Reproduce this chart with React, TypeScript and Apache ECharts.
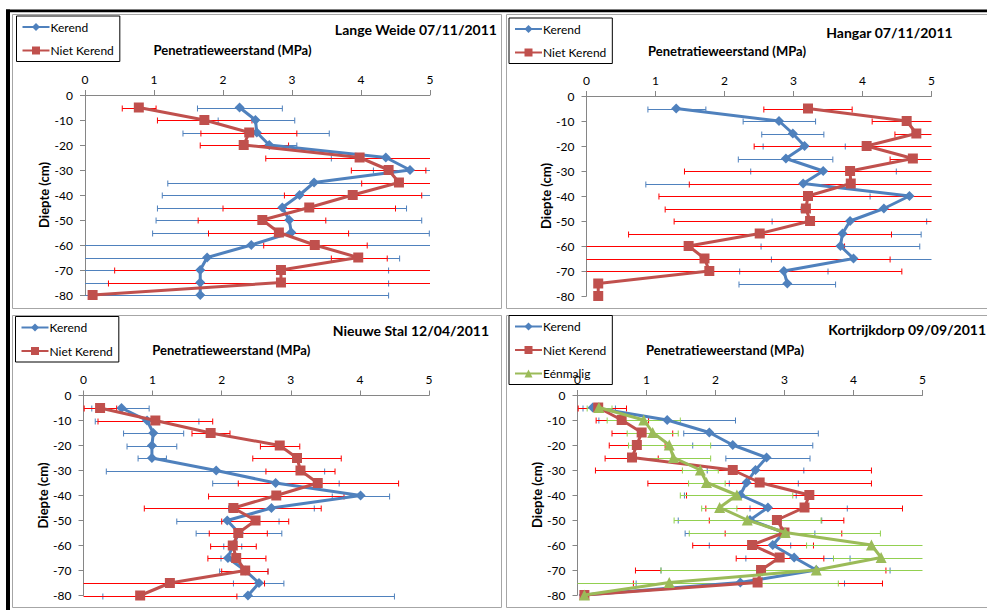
import React, { useEffect, useRef } from "react";
import * as echarts from "echarts";

// Depths (cm)
const depths = [-5, -10, -15, -20, -25, -30, -35, -40, -45, -50, -55, -60, -65, -70, -75, -80];
const xTicks = { min: 0, max: 5, interval: 1 };
const yTicks = { min: -80, max: 0, interval: 10 };

const panelTitles = [
  "Lange Weide 07/11/2011",
  "Hangar 07/11/2011",
  "Nieuwe Stal 12/04/2011",
  "Kortrijkdorp 09/09/2011",
];
const xAxisTitle = "Penetratieweerstand (MPa)";
const yAxisTitle = "Diepte (cm)";
const seriesNames = ["Kerend", "Niet Kerend", "Eénmalig"];

// Panel 1: Lange Weide
const lwKerend = [2.24, 2.47, 2.49, 2.67, 4.36, 4.71, 3.32, 3.11, 2.86, 2.96, 2.99, 2.41, 1.77, 1.67, 1.67, 1.67];
const lwKerendLow = [1.63, 1.93, 1.42, 2.27, 3.57, 4.18, 1.2, 1.12, 1.05, 1.03, 0.98, -0.3, -1.02, -1.06, -1.06, -1.06];
const lwKerendHigh = [2.86, 3.04, 3.54, 3.07, 5.15, 5.24, 5.44, 5.1, 4.66, 4.88, 4.99, 5.12, 4.56, 4.4, 4.4, 4.4];
const lwNiet = [0.78, 1.73, 2.38, 2.3, 3.98, 4.4, 4.55, 3.88, 3.25, 2.57, 2.81, 3.33, 3.96, 2.84, 2.84, 0.11];
const lwNietLow = [0.54, 1.05, 1.68, 1.67, 2.62, 3.86, 4.01, 2.89, 2.0, 1.64, 1.79, 2.59, 3.57, 0.43, 0.34, 0.11];
const lwNietHigh = [1.03, 2.42, 3.07, 2.95, 5.34, 4.94, 5.09, 4.88, 4.5, 3.49, 3.82, 4.09, 4.38, 5.25, 5.34, 0.11];

// Panel 2: Hangar
const haKerend = [1.3, 2.79, 2.99, 3.16, 2.89, 3.43, 3.14, 4.68, 4.31, 3.82, 3.71, 3.68, 3.87, 2.86, 2.91, null];
const haKerendLow = [0.89, 2.27, 2.54, 2.56, 2.2, 2.38, 0.86, 4.11, 3.11, 2.69, 2.57, 2.53, 2.68, 2.22, 2.21, null];
const haKerendHigh = [1.73, 3.32, 3.44, 3.75, 3.57, 4.49, 5.42, 5.25, 5.51, 4.93, 4.85, 4.83, 5.06, 3.5, 3.61, null];
const haNiet = [3.21, 4.64, 4.78, 4.06, 4.73, 3.82, 3.83, 3.21, 3.18, 3.24, 2.51, 1.48, 1.71, 1.78, 0.17, 0.17];
const haNietLow = [2.57, 4.14, 4.47, 2.43, 4.4, 1.42, 1.49, 1.05, 1.14, 1.27, 0.61, -0.78, -0.98, -1.01, 0.17, 0.17];
const haNietHigh = [3.85, 5.14, 5.09, 5.69, 5.06, 6.22, 6.17, 5.37, 5.22, 5.21, 4.42, 3.74, 4.4, 4.57, 0.17, 0.17];

// Panel 3: Nieuwe Stal
const nsKerend = [0.55, 0.92, 1.01, 0.99, 0.99, 1.92, 2.78, 4.01, 2.72, 2.08, 2.25, 2.16, 2.09, 2.34, 2.54, 2.38];
const nsKerendLow = [0.12, 0.17, 0.58, 0.63, 0.79, 0.33, 1.87, 3.6, 2.1, 1.35, 1.63, 2.03, 1.99, 1.97, 2.17, 0.28];
const nsKerendHigh = [0.95, 1.67, 1.45, 1.35, 1.2, 3.49, 3.7, 4.43, 3.34, 2.83, 2.87, 2.29, 2.19, 2.67, 2.9, 4.5];
const nsNiet = [0.24, 1.04, 1.84, 2.84, 3.09, 3.14, 3.39, 2.79, 2.17, 2.49, 2.24, 2.16, 2.21, 2.34, 1.25, 0.82];
const nsNietLow = [0.01, 0.21, 1.57, 2.56, 2.45, 2.64, 2.24, 1.81, 0.88, 2.0, 1.82, 1.84, 1.8, 2.0, -0.12, -0.58];
const nsNietHigh = [0.48, 1.87, 2.12, 3.13, 3.73, 3.64, 4.56, 3.77, 3.44, 2.97, 2.66, 2.5, 2.64, 2.67, 2.62, 2.22];

// Panel 4: Kortrijkdorp
const kdKerend = [0.22, 1.3, 1.91, 2.25, 2.74, 2.58, 2.45, 2.36, 2.76, 2.5, 2.99, 2.83, 3.14, 3.46, 2.36, 0.09];
const kdKerendLow = [0.08, 0.31, 1.54, 1.67, 2.15, 1.88, 2.2, 1.55, 2.5, 1.46, 1.56, 1.91, 2.44, 1.21, 0.85, 0.09];
const kdKerendHigh = [0.55, 2.29, 3.49, 3.41, 3.37, 3.28, 3.2, 3.17, 3.91, 3.54, 3.44, 3.09, 3.95, 4.53, 3.87, 0.09];
const kdNiet = [0.3, 0.64, 0.93, 0.86, 0.79, 2.25, 2.64, 3.36, 3.29, 2.89, 3.0, 2.53, 2.93, 2.66, 2.61, 0.1];
const kdNietLow = [0.01, 0.27, 0.5, 0.46, 0.4, 0.26, 1.02, 1.58, 1.86, 1.91, 2.14, 1.67, 2.3, 0.84, 0.81, 0.1];
const kdNietHigh = [0.71, 1.03, 1.38, 1.27, 1.17, 4.26, 4.26, 5.14, 4.71, 3.86, 3.83, 3.42, 3.57, 4.47, 4.42, 0.1];
const kdEen = [0.31, 0.96, 1.09, 1.33, 1.39, 1.78, 1.87, 2.31, 2.06, 2.46, 3.01, 4.26, 4.4, 3.46, 1.33, 0.1];
const kdEenLow = [0.14, 0.43, 0.72, 0.74, 0.85, 1.52, 1.61, 1.49, 1.8, 1.4, 1.62, 3.32, 3.71, 1.21, -1.12, 0.1];
const kdEenHigh = [0.5, 1.49, 1.46, 1.93, 1.93, 2.04, 2.14, 3.12, 2.31, 3.53, 4.39, 5.2, 5.09, 5.71, 3.78, 0.1];

const FONT = "Lato, 'Open Sans', sans-serif";
const styles = [
  { color: "#4F81BD", err: "#4F81BD", symbol: "diamond", size: 10 },
  { color: "#C0504D", err: "#FF0000", symbol: "rect", size: 10 },
  { color: "#9BBB59", err: "#92D050", symbol: "triangle", size: 11 },
];

type S = { vals: (number | null)[]; low: (number | null)[]; high: (number | null)[] };
const panelSeries: S[][] = [
  [
    { vals: lwKerend, low: lwKerendLow, high: lwKerendHigh },
    { vals: lwNiet, low: lwNietLow, high: lwNietHigh },
  ],
  [
    { vals: haKerend, low: haKerendLow, high: haKerendHigh },
    { vals: haNiet, low: haNietLow, high: haNietHigh },
  ],
  [
    { vals: nsKerend, low: nsKerendLow, high: nsKerendHigh },
    { vals: nsNiet, low: nsNietLow, high: nsNietHigh },
  ],
  [
    { vals: kdKerend, low: kdKerendLow, high: kdKerendHigh },
    { vals: kdNiet, low: kdNietLow, high: kdNietHigh },
    { vals: kdEen, low: kdEenLow, high: kdEenHigh },
  ],
];

const grids = [
  { left: 85, top: 95, width: 345, height: 200 },
  { left: 586.5, top: 96, width: 345, height: 200 },
  { left: 83.5, top: 395.5, width: 345.5, height: 200 },
  { left: 577.5, top: 395, width: 345, height: 200 },
];
const titlePos = [
  { right: 490, top: 20 },
  { right: 34, top: 23 },
  { right: 498, top: 321 },
  { right: 1, top: 320 },
];
const legendPos = [
  { left: 16.5, top: 16 },
  { left: 509, top: 18 },
  { left: 15.5, top: 316.5 },
  { left: 509, top: 315.5 },
];
const xNameShift = [50, 64, 50, 50];
const yNameGap = [33, 32, 32, 31];

export default function App() {
  const ref = useRef<HTMLDivElement>(null);
  useEffect(() => {
    if (!ref.current) return;
    const chart = echarts.init(ref.current, null, { renderer: "svg" });

    const series: any[] = [];
    panelSeries.forEach((list, pi) => {
      list.forEach((s, si) => {
        const st = styles[si];
        const data: any[] = [];
        depths.forEach((d, k) => {
          if (s.low[k] != null && s.high[k] != null) data.push([s.low[k], s.high[k], d]);
        });
        series.push({
          type: "custom",
          name: "err" + pi + "_" + si,
          xAxisIndex: pi,
          yAxisIndex: pi,
          clip: false,
          z: 1,
          encode: { x: [0, 1], y: 2 },
          data,
          renderItem: (params: any, api: any) => {
            const lo = api.value(0);
            const hi = api.value(1);
            const d = api.value(2);
            if (hi - lo < 1e-6) return null;
            const cs = params.coordSys;
            const xmin = cs.x;
            const xmax = cs.x + cs.width;
            const p1 = api.coord([lo, d]);
            const p2 = api.coord([hi, d]);
            const cap1 = p1[0] >= xmin - 0.5;
            const cap2 = p2[0] <= xmax + 0.5;
            const x1 = Math.max(p1[0], xmin);
            const x2 = Math.min(p2[0], xmax);
            const y = Math.round(p1[1]) + 0.5;
            const h = 3;
            const ls = { stroke: st.err, lineWidth: 1 };
            const children: any[] = [
              { type: "line", shape: { x1, y1: y, x2, y2: y }, style: ls },
            ];
            if (cap1) children.push({ type: "line", shape: { x1, y1: y - h, x2: x1, y2: y + h }, style: ls });
            if (cap2) children.push({ type: "line", shape: { x1: x2, y1: y - h, x2, y2: y + h }, style: ls });
            return { type: "group", children };
          },
        });
      });
      list.forEach((s, si) => {
        const st = styles[si];
        const data: any[] = [];
        depths.forEach((d, k) => {
          if (s.vals[k] != null) data.push([s.vals[k], d]);
        });
        series.push({
          type: "line",
          name: seriesNames[si],
          xAxisIndex: pi,
          yAxisIndex: pi,
          data,
          symbol: st.symbol,
          symbolSize: st.size,
          showSymbol: true,
          clip: false,
          z: 3 + si,
          lineStyle: { color: st.color, width: 3 },
          itemStyle: { color: st.color },
          emphasis: { disabled: true },
        });
      });
    });

    const option: any = {
      animation: false,
      backgroundColor: "#ffffff",
      textStyle: { fontFamily: FONT },
      graphic: [
        { type: "rect", shape: { x: 12.5, y: 14.5, width: 489, height: 294 }, style: { fill: "none", stroke: "#A6A6A6", lineWidth: 1 }, z: -10 },
        { type: "rect", shape: { x: 506.5, y: 14.5, width: 490, height: 294 }, style: { fill: "none", stroke: "#A6A6A6", lineWidth: 1 }, z: -10 },
        { type: "rect", shape: { x: 12.5, y: 315.5, width: 489, height: 292 }, style: { fill: "none", stroke: "#A6A6A6", lineWidth: 1 }, z: -10 },
        { type: "rect", shape: { x: 506.5, y: 315.5, width: 490, height: 292 }, style: { fill: "none", stroke: "#A6A6A6", lineWidth: 1 }, z: -10 },
        { type: "rect", shape: { x: 6, y: 9.5, width: 990, height: 2.7 }, style: { fill: "#000" }, z: -9 },
        { type: "rect", shape: { x: 6, y: 9.5, width: 4, height: 610 }, style: { fill: "#000" }, z: -9 },
      ],
      title: panelTitles.map((t, i) => ({
        text: t,
        right: titlePos[i].right,
        top: titlePos[i].top,
        padding: 0,
        textStyle: { fontFamily: FONT, fontSize: 14, fontWeight: "bold", color: "#000", lineHeight: 18 },
      })),
      legend: legendPos.map((p, i) => ({
        orient: "vertical",
        left: p.left,
        top: p.top,
        padding: [4, 6, 4, 5],
        borderColor: "#000",
        borderWidth: 1,
        itemWidth: 27,
        itemHeight: 10,
        itemGap: 9.5,
        selectedMode: false,
        data: seriesNames.slice(0, panelSeries[i].length),
        textStyle: { fontFamily: FONT, fontSize: 12, color: "#000", lineHeight: 14, padding: [0, 0, 0, -4] },
      })),
      grid: grids.map((g) => ({ ...g, containLabel: false })),
      xAxis: grids.map((_g, i) => ({
        gridIndex: i,
        type: "value",
        position: "top",
        min: xTicks.min,
        max: xTicks.max,
        interval: xTicks.interval,
        axisLine: { show: true, onZero: false, lineStyle: { color: "#868686", width: 1 } },
        axisTick: { show: true, length: 5, lineStyle: { color: "#868686" } },
        splitLine: { show: false },
        axisLabel: { color: "#000", fontSize: 12, margin: 10, fontFamily: FONT },
        name: xAxisTitle,
        nameLocation: "middle",
        nameGap: 39,
        nameTextStyle: {
          fontFamily: FONT,
          fontSize: 13,
          fontWeight: "bold",
          color: "#000",
          padding: [0, xNameShift[i], 0, 0],
        },
      })),
      yAxis: grids.map((_g, i) => ({
        gridIndex: i,
        type: "value",
        min: yTicks.min,
        max: yTicks.max,
        interval: yTicks.interval,
        axisLine: { show: true, onZero: false, lineStyle: { color: "#868686", width: 1 } },
        axisTick: { show: true, length: 5, lineStyle: { color: "#868686" } },
        splitLine: { show: false },
        axisLabel: { color: "#000", fontSize: 12, margin: 12, fontFamily: FONT },
        name: yAxisTitle,
        nameLocation: "middle",
        nameGap: yNameGap[i],
        nameRotate: 90,
        nameTextStyle: { fontFamily: FONT, fontSize: 13, fontWeight: "bold", color: "#000" },
      })),
      series,
    };
    chart.setOption(option);
    return () => chart.dispose();
  }, []);
  return (
    <div
      ref={ref}
      style={{ position: "absolute", left: 0, top: 0, width: 987, height: 610 }}
    />
  );
}
